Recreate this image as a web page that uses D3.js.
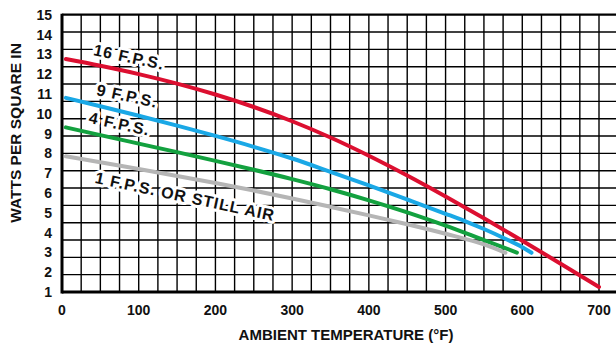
<!DOCTYPE html>
<html>
<head>
<meta charset="utf-8">
<script src="https://cdn.jsdelivr.net/npm/d3@7"></script>
<style>
  html, body { margin: 0; padding: 0; background: #fff; overflow: hidden; }
  svg { display: block; font-family: "Liberation Sans", Arial, sans-serif; font-weight: bold; }
</style>
</head>
<body>
<svg id="chart" width="616" height="343"></svg>
<script>
// ambient temperature (°F) and watts per square inch
const tempsRed = [5, 50, 100, 150, 200, 250, 300, 350, 400, 450, 500, 550, 600, 650, 700];
const watts16 = [12.76, 12.42, 12.0, 11.52, 10.97, 10.34, 9.62, 8.8, 7.88, 6.88, 5.82, 4.72, 3.59, 2.43, 1.25];

const tempsBlue = [5, 50, 100, 150, 200, 250, 300, 350, 400, 450, 500, 525, 550, 575, 600, 612];
const watts9 = [10.8, 10.38, 9.9, 9.4, 8.88, 8.33, 7.74, 7.07, 6.38, 5.67, 4.95, 4.58, 4.18, 3.74, 3.26, 2.98];

const tempsGreen = [5, 50, 100, 150, 200, 250, 300, 350, 400, 450, 500, 550, 593];
const watts4 = [9.31, 8.92, 8.49, 8.06, 7.62, 7.17, 6.7, 6.19, 5.63, 5.02, 4.35, 3.62, 2.99];

const tempsGray = [5, 50, 100, 150, 200, 250, 300, 350, 400, 450, 500, 550, 578];
const watts1 = [7.85, 7.55, 7.21, 6.86, 6.5, 6.12, 5.72, 5.3, 4.87, 4.42, 3.94, 3.4, 2.98];

const seriesNames = ['16 F.P.S.', '9 F.P.S.', '4 F.P.S.', '1 F.P.S. OR STILL AIR'];
// where each curve's label starts, in chart units
const labelTemp = [40, 44, 34, 42];
const labelWatts = [12.97, 10.95, 9.54, 6.51];

const xTicks = [0, 100, 200, 300, 400, 500, 600, 700];
const yTicks = [1, 2, 3, 4, 5, 6, 7, 8, 9, 10, 11, 12, 13, 14, 15];

const colors = ['#dc0f30', '#1aa8e6', '#13a13f', '#b5b5b5'];

const series = [
  { name: seriesNames[0], xs: tempsRed, ys: watts16 },
  { name: seriesNames[1], xs: tempsBlue, ys: watts9 },
  { name: seriesNames[2], xs: tempsGreen, ys: watts4 },
  { name: seriesNames[3], xs: tempsGray, ys: watts1 }
];

const svg = d3.select('#chart');
const plotLeft = 62, plotTop = 14.7, plotBottom = 292, plotRight700 = 599;

const x = d3.scaleLinear().domain([0, 700]).range([plotLeft, plotRight700]);
const y = d3.scaleLinear().domain([1, 15]).range([plotBottom, plotTop]);
// the printed grid has 16 rows, not matched to the labels
const gridY = d3.scaleLinear().domain([0, 16]).range([plotBottom, plotTop]);

const grid = svg.append('g').attr('stroke', '#000').attr('stroke-width', 1.4);

grid.selectAll('line.v')
  .data(d3.range(25, 776, 25))
  .join('line')
  .attr('class', 'v')
  .attr('x1', d => x(d)).attr('x2', d => x(d))
  .attr('y1', plotTop).attr('y2', plotBottom);

grid.selectAll('line.h')
  .data(d3.range(1, 16))
  .join('line')
  .attr('class', 'h')
  .attr('x1', plotLeft).attr('x2', x(780))
  .attr('y1', d => gridY(d)).attr('y2', d => gridY(d));

// frame
svg.append('line').attr('x1', plotLeft).attr('x2', x(780)).attr('y1', plotTop).attr('y2', plotTop)
  .attr('stroke', '#000').attr('stroke-width', 2.2);
svg.append('line').attr('x1', plotLeft).attr('x2', x(780)).attr('y1', plotBottom).attr('y2', plotBottom)
  .attr('stroke', '#000').attr('stroke-width', 3);
svg.append('line').attr('x1', plotLeft).attr('x2', plotLeft).attr('y1', plotTop - 1).attr('y2', plotBottom + 1.5)
  .attr('stroke', '#000').attr('stroke-width', 3);

// curves
const line = d3.line()
  .x(d => x(d[0]))
  .y(d => y(d[1]))
  .curve(d3.curveMonotoneX);

svg.append('g').selectAll('path')
  .data(series)
  .join('path')
  .attr('d', s => line(s.xs.map((v, i) => [v, s.ys[i]])))
  .attr('fill', 'none')
  .attr('stroke', (s, i) => colors[i])
  .attr('stroke-width', 4)
  .attr('stroke-linecap', 'round');

// curve labels with white knock-out behind
svg.append('g').selectAll('text')
  .data(seriesNames)
  .join('text')
  .attr('transform', (d, i) => `translate(${x(labelTemp[i])},${y(labelWatts[i])}) rotate(12)`)
  .attr('font-size', 16)
  .attr('letter-spacing', 1)
  .attr('fill', '#111')
  .attr('stroke', '#fff')
  .attr('stroke-width', 6)
  .attr('stroke-linejoin', 'round')
  .attr('paint-order', 'stroke')
  .text(d => d);

// tick labels
svg.append('g').selectAll('text')
  .data(xTicks)
  .join('text')
  .attr('x', d => x(d))
  .attr('y', 315)
  .attr('text-anchor', 'middle')
  .attr('font-size', 14)
  .attr('fill', '#111')
  .text(d => d);

svg.append('g').selectAll('text')
  .data(yTicks)
  .join('text')
  .attr('x', 52)
  .attr('y', d => y(d))
  .attr('dy', '0.36em')
  .attr('text-anchor', 'end')
  .attr('font-size', 14)
  .attr('fill', '#111')
  .text(d => d);

svg.append('text')
  .attr('x', 346)
  .attr('y', 340)
  .attr('text-anchor', 'middle')
  .attr('font-size', 15)
  .attr('fill', '#111')
  .text('AMBIENT TEMPERATURE (°F)');

svg.append('text')
  .attr('transform', 'translate(21,133) rotate(-90)')
  .attr('text-anchor', 'middle')
  .attr('font-size', 15.5)
  .attr('fill', '#111')
  .text('WATTS PER SQUARE IN');
</script>
</body>
</html>
